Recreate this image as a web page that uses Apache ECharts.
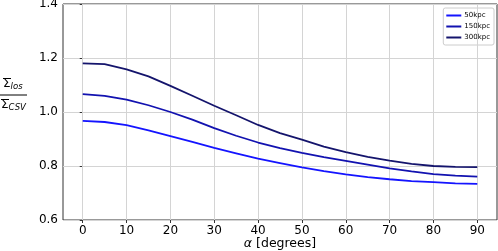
<!DOCTYPE html>
<html>
<head>
<meta charset="utf-8">
<script src="https://cdn.jsdelivr.net/npm/echarts@6/dist/echarts.min.js"></script>
<style>
  html, body { margin: 0; padding: 0; background: #fff; }
  #chart { width: 498px; height: 251px; }
</style>
</head>
<body>
<div id="chart"></div>
<script>
// viewing angle in degrees
const angles = [0, 5, 10, 15, 20, 25, 30, 35, 40, 45, 50, 55, 60, 65, 70, 75, 80, 85, 90];
const kpc50 = [0.967, 0.963, 0.951, 0.932, 0.911, 0.889, 0.867, 0.847, 0.827, 0.811, 0.795, 0.781, 0.769, 0.759, 0.751, 0.744, 0.740, 0.736, 0.734];
const kpc150 = [1.066, 1.060, 1.046, 1.025, 1.000, 0.972, 0.940, 0.912, 0.887, 0.866, 0.849, 0.833, 0.819, 0.805, 0.791, 0.780, 0.770, 0.764, 0.761];
const kpc300 = [1.180, 1.177, 1.158, 1.132, 1.097, 1.060, 1.023, 0.988, 0.952, 0.922, 0.898, 0.872, 0.851, 0.834, 0.820, 0.808, 0.800, 0.797, 0.796];
const xTicks = [0, 10, 20, 30, 40, 50, 60, 70, 80, 90];

const font = 'DejaVu Sans';
const chart = echarts.init(document.getElementById('chart'));

const pairs = (ys) => angles.map((a, i) => [a, ys[i]]);

const lineSeries = (name, ys, color) => ({
  name: name,
  type: 'line',
  data: pairs(ys),
  showSymbol: false,
  symbol: 'none',
  smooth: false,
  lineStyle: { color: color, width: 1.8 },
  itemStyle: { color: color },
  z: 5
});

// little fraction label on the left: Σlos over ΣCSV, both with a bar on top
const sigmaRich = {
  s: { fontFamily: font, fontSize: 12, fill: '#000' },
  b: { fontFamily: font, fontSize: 8.5, fontStyle: 'italic', fill: '#000', padding: [6, 0, 0, 0] }
};

const option = {
  animation: false,
  grid: {
    left: 63, right: 1, top: 4, bottom: 31,
    containLabel: false,
    outerBoundsMode: 'none',
    show: true, borderColor: '#333', borderWidth: 1
  },
  legend: {
    right: 4, top: 8,
    orient: 'vertical',
    icon: 'rect',
    itemWidth: 15, itemHeight: 2,
    itemGap: 4,
    padding: [4, 4, 4, 3],
    borderColor: '#ccc', borderWidth: 1, borderRadius: 2,
    backgroundColor: '#fff',
    textStyle: { fontFamily: font, fontSize: 7, color: '#000', padding: [0, 0, 0, -2] },
    data: ['50kpc', '150kpc', '300kpc']
  },
  xAxis: {
    type: 'value',
    min: -4.5, max: 94.5,
    name: '{a|α} [degrees]',
    nameLocation: 'middle',
    nameGap: 17,
    nameMoveOverlap: false,
    nameTextStyle: {
      fontFamily: font, fontSize: 12.5, color: '#000',
      rich: { a: { fontFamily: font, fontSize: 12.5, fontStyle: 'italic', color: '#000' } }
    },
    axisLine: { show: false },
    axisTick: { show: true, length: 3, customValues: xTicks, lineStyle: { color: '#333' } },
    axisLabel: { customValues: xTicks, margin: 5, fontFamily: font, fontSize: 12, color: '#000' },
    splitLine: { show: false }
  },
  yAxis: {
    type: 'value',
    min: 0.6, max: 1.4, interval: 0.2,
    axisLine: { show: false },
    axisTick: { show: true, length: 3, lineStyle: { color: '#333' } },
    axisLabel: {
      margin: 5, fontFamily: font, fontSize: 12, color: '#000',
      formatter: (v) => v.toFixed(1)
    },
    splitLine: { show: true, lineStyle: { color: '#d4d4d4', width: 1 } }
  },
  graphic: [
    { type: 'text', left: 3, top: 78, style: { text: '{s|Σ}{b|los}', rich: sigmaRich } },
    { type: 'line', shape: { x1: 3, y1: 78.5, x2: 11, y2: 78.5 }, style: { stroke: '#000', lineWidth: 1 } },
    { type: 'line', shape: { x1: 0, y1: 95, x2: 27, y2: 95 }, style: { stroke: '#000', lineWidth: 1 } },
    { type: 'text', left: 1, top: 99, style: { text: '{s|Σ}{b|CSV}', rich: sigmaRich } },
    { type: 'line', shape: { x1: 1, y1: 99.5, x2: 9, y2: 99.5 }, style: { stroke: '#000', lineWidth: 1 } }
  ],
  series: [
    {
      name: 'grid-x',
      type: 'line',
      data: [],
      silent: true,
      z: 1,
      markLine: {
        silent: true,
        symbol: 'none',
        label: { show: false },
        lineStyle: { color: '#d4d4d4', width: 1, type: 'solid' },
        data: xTicks.map((v) => ({ xAxis: v }))
      }
    },
    lineSeries('50kpc', kpc50, '#1414ff'),
    lineSeries('150kpc', kpc150, '#1212b0'),
    lineSeries('300kpc', kpc300, '#14146c')
  ]
};

chart.setOption(option);
</script>
</body>
</html>
